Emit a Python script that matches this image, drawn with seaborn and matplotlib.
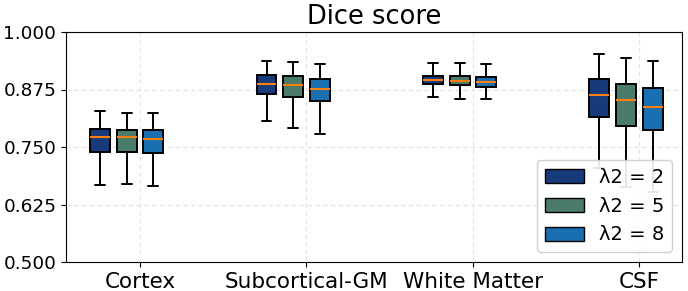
import numpy as np
import pandas as pd
import seaborn as sns
import matplotlib.pyplot as plt
from matplotlib.patches import Patch

# Tissue classes and lambda settings
regions = ["Cortex", "Subcortical-GM", "White Matter", "CSF"]
lambda_labels = ["λ2 = 2", "λ2 = 5", "λ2 = 8"]
colors = ["#173a7a", "#4a7a68", "#1a6fb0"]

# Box summary per region: (whisker low, Q1, median, Q3, whisker high)
stats_l2 = [
    (0.667, 0.740, 0.771, 0.790, 0.828),
    (0.806, 0.865, 0.888, 0.907, 0.937),
    (0.858, 0.886, 0.895, 0.905, 0.932),
    (0.704, 0.816, 0.863, 0.897, 0.952),
]
stats_l5 = [
    (0.669, 0.740, 0.772, 0.788, 0.825),
    (0.791, 0.858, 0.884, 0.904, 0.934),
    (0.854, 0.884, 0.893, 0.904, 0.932),
    (0.664, 0.796, 0.852, 0.887, 0.943),
]
stats_l8 = [
    (0.665, 0.736, 0.768, 0.788, 0.825),
    (0.778, 0.850, 0.877, 0.897, 0.930),
    (0.854, 0.881, 0.891, 0.902, 0.930),
    (0.653, 0.786, 0.838, 0.878, 0.936),
]

group_shift = -0.08  # boxes sit slightly left of each tick

rows = []
for lab, stats in zip(lambda_labels, [stats_l2, stats_l5, stats_l8]):
    for i, vals in enumerate(stats):
        for v in vals:
            rows.append({"pos": i + group_shift, "dice": v, "lam": lab})
df = pd.DataFrame(rows)

sns.set_style("ticks", {"text.color": "black", "xtick.color": "black",
                        "ytick.color": "black", "axes.labelcolor": "black"})
plt.rcParams["font.family"] = ["DejaVu Sans"]
fig = plt.figure(figsize=(6.88, 2.91), dpi=100)
ax = fig.add_axes([66 / 688, 29 / 291, 616 / 688, 230 / 291])

sns.boxplot(
    data=df, x="pos", y="dice", hue="lam", hue_order=lambda_labels,
    native_scale=True, width=0.48, gap=0.25, whis=(0, 100),
    palette=colors, saturation=1, linecolor="black", linewidth=1.4,
    medianprops={"color": "#ff7f0e", "linewidth": 1.5},
    legend=False, ax=ax,
)

ax.set_xlim(-0.445, 3.257)
ax.set_ylim(0.5, 1.0)
ax.set_xticks(range(len(regions)))
ax.set_xticklabels(regions, fontsize=15.5)
ax.set_yticks(np.arange(0.5, 1.0001, 0.125))
ax.set_yticklabels([f"{t:.3f}" for t in np.arange(0.5, 1.0001, 0.125)], fontsize=13.3)
ax.set_xlabel("")
ax.set_ylabel("")
ax.grid(True, linestyle=(0, (4, 3)), color="#e3e3e3", linewidth=0.8)
ax.set_axisbelow(True)
for s in ax.spines.values():
    s.set_visible(True)
    s.set_color("black")
ax.set_title("Dice score", fontsize=18.5, pad=6)

handles = [Patch(facecolor=c, edgecolor="black", label=l) for c, l in zip(colors, lambda_labels)]
ax.legend(handles=handles, loc="lower right", fontsize=14, framealpha=0.9)

fig.savefig("out.png", dpi=100)
